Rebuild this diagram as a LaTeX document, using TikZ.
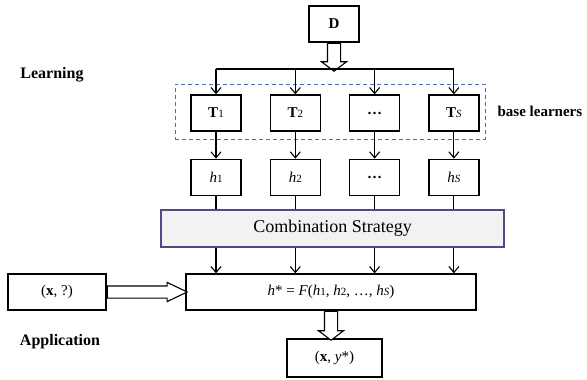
\documentclass[tikz,border=0pt]{standalone}
\usepackage{fontspec}
\setmainfont{Liberation Serif}
\usepackage{tikz}
\usetikzlibrary{positioning,arrows.meta,shapes.arrows}

\definecolor{dashblue}{HTML}{4A6FB5}
\definecolor{combline}{HTML}{4B4B8C}
\definecolor{combfill}{HTML}{F2F2F2}

\newcommand{\sm}[1]{{\fontsize{11}{11}\selectfont #1}}

\begin{document}
\begin{tikzpicture}[
x=1pt,y=-1pt,
node distance=28pt,
box/.style={draw,line width=1.3pt,minimum width=50pt,minimum height=36pt,inner sep=0pt,font=\fontsize{15}{15}\selectfont},
arrow/.style={-{Straight Barb[length=6pt,width=10pt]},line width=1.1pt},
link/.style={line width=1.1pt},
hollow/.style={single arrow,draw,line width=1.1pt,fill=white,inner sep=6pt,single arrow head extend=6pt,single arrow tip angle=106},
label/.style={font=\fontsize{16}{16}\selectfont\bfseries}
]
\useasboundingbox (0,0) rectangle (587,380);

% training set and base learners
\node[box] (D) at (334,24) {\textbf{D}};
\node[draw=dashblue,dashed,line width=0.9pt,dash pattern=on 4pt off 3pt,minimum width=310pt,minimum height=55pt] (base) at (330,111.5) {};
\node[box] (T1) at (216,113) {\textbf{T}\sm{1}};
\node[box, right=of T1] (T2) {\textbf{T}\sm{2}};
\node[box, right=of T2] (T3) {\textbf{…}};
\node[box, right=of T3] (TS) {\textbf{T}\sm{\textit{S}}};
\node[label, font=\fontsize{15}{15}\selectfont\bfseries, inner sep=1pt, right=11pt of base] (bl) {base learners};
\node[label] (learn) at (52,75) {Learning};

% learned hypotheses
\node[box, below=27pt of T1] (h1) {\textit{h}\sm{1}};
\node[box, below=27pt of T2] (h2) {\textit{h}\sm{2}};
\node[box, below=27pt of T3] (h3) {\textbf{…}};
\node[box, below=27pt of TS] (hS) {\textit{h}\sm{\textit{S}}};

\node[draw=combline,fill=combfill,line width=1.1pt,minimum width=343pt,minimum height=37pt,font=\fontsize{18}{18}\selectfont] (comb) at (332.5,228.5) {Combination Strategy};

% application
\node[box, minimum width=290pt] (hstar) at (331,292) {\textit{h}* = \textit{F}(\textit{h}\sm{1}, \textit{h}\sm{2}, …, \textit{h}\sm{\textit{S}})};
\node[box, minimum width=98pt] (xq) at (57,292) {(\textbf{x}, ?)};
\node[box, minimum width=95pt, minimum height=38pt] (xy) at (334.5,358) {(\textbf{x}, \textit{y}*)};
\node[label] (app) at (60,342) {Application};

\coordinate (bus) at (0,69);

% hollow arrows
\node[hollow, shape border rotate=270, minimum height=28pt, anchor=tail] (darr) at (D.south) {};
\node[hollow, inner sep=5.5pt, single arrow head extend=3.5pt, single arrow tip angle=51, minimum height=80pt, anchor=tail] (rarr) at (xq.east) {};
\node[hollow, shape border rotate=270, minimum height=29pt, anchor=tail] (oarr) at (hstar.south) {};

% connectors
\draw[link] (T1.north |- bus) -- (TS.north |- bus);
\foreach \t/\h in {T1/h1,T2/h2,T3/h3,TS/hS}{
  \draw[arrow] (\t.north |- bus) -- (\t.north);
  \draw[arrow] (\t) -- (\h);
  \draw[link] (\h.south) -- (\h |- comb.north);
  \draw[arrow] (\h |- comb.south) -- (\h |- hstar.north);
}
\end{tikzpicture}
\end{document}
